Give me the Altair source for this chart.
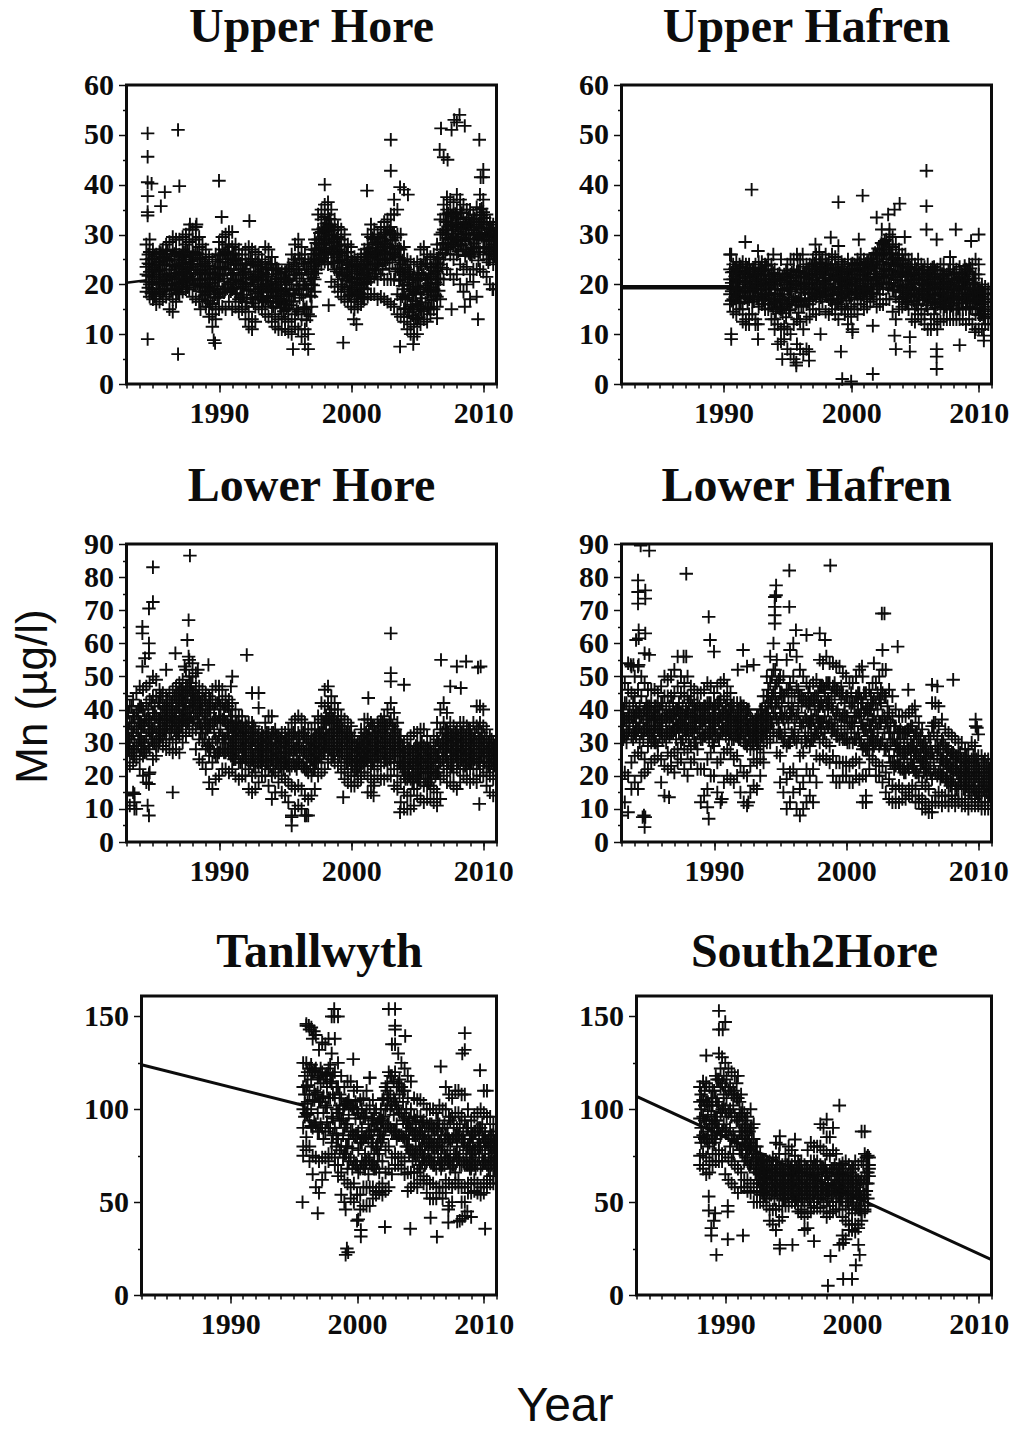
import altair as alt
import pandas as pd

QUARTERS = [1983.0,1983.25,1983.5,1983.75,1984.0,1984.25,1984.5,1984.75,1985.0,1985.25,1985.5,1985.75,
1986.0,1986.25,1986.5,1986.75,1987.0,1987.25,1987.5,1987.75,1988.0,1988.25,1988.5,1988.75,
1989.0,1989.25,1989.5,1989.75,1990.0,1990.25,1990.5,1990.75,1991.0,1991.25,1991.5,1991.75,
1992.0,1992.25,1992.5,1992.75,1993.0,1993.25,1993.5,1993.75,1994.0,1994.25,1994.5,1994.75,
1995.0,1995.25,1995.5,1995.75,1996.0,1996.25,1996.5,1996.75,1997.0,1997.25,1997.5,1997.75,
1998.0,1998.25,1998.5,1998.75,1999.0,1999.25,1999.5,1999.75,2000.0,2000.25,2000.5,2000.75,
2001.0,2001.25,2001.5,2001.75,2002.0,2002.25,2002.5,2002.75,2003.0,2003.25,2003.5,2003.75,
2004.0,2004.25,2004.5,2004.75,2005.0,2005.25,2005.5,2005.75,2006.0,2006.25,2006.5,2006.75,
2007.0,2007.25,2007.5,2007.75,2008.0,2008.25,2008.5,2008.75,2009.0,2009.25,2009.5,2009.75,
2010.0,2010.25,2010.5,2010.75]
MIDS = [1983.13,1983.38,1983.6,1983.88,1984.1,1984.38,1984.65,1984.88,1985.13,1985.4,1985.6,1985.88,
1986.1,1986.38,1986.63,1986.9,1987.13,1987.35,1987.63,1987.88,1988.1,1988.38,1988.63,1988.9,
1989.13,1989.35,1989.63,1989.88,1990.1,1990.38,1990.63,1990.9,1991.13,1991.35,1991.63,1991.88,
1992.1,1992.38,1992.63,1992.9,1993.13,1993.35,1993.63,1993.88,1994.1,1994.38,1994.63,1994.9,
1995.13,1995.35,1995.63,1995.88,1996.1,1996.38,1996.63,1996.9,1997.13,1997.35,1997.63,1997.88,
1998.1,1998.38,1998.63,1998.9,1999.13,1999.35,1999.63,1999.88,2000.1,2000.38,2000.63,2000.9,
2001.13,2001.35,2001.63,2001.88,2002.1,2002.38,2002.63,2002.9,2003.13,2003.35,2003.63,2003.88,
2004.1,2004.38,2004.63,2004.9,2005.13,2005.35,2005.63,2005.88,2006.1,2006.38,2006.63,2006.9,
2007.13,2007.35,2007.63,2007.88,2008.1,2008.38,2008.63,2008.9,2009.13,2009.35,2009.63,2009.88,
2010.1,2010.38,2010.63,2010.88]

# ---- Upper Hore
UH_START = 1984.5
UH_ROWS = [[28,25,23.5,22,20.5,18.5],[29,26.5,24,22.5,20,17.5],[27,25,23,21.5,19,17],[26,24,22.5,20,18,16],
[26.5,24.5,22,20.5,18.5,16.5],[27,25.5,23,21,19,17],[28,26,24,22,20,17.5],[28.5,25,23,21.5,18,15],
[29.5,27,24,20,17,14.5],[29,26.5,23.5,21,19,16.5],[29,26,24,22,20,18],[29.5,27,25,22.5,20.5,18.5],
[30,28,25.5,23,21,19],[31,28.5,26,23.5,21.5,19],[31,29,26.5,24,21,17.5],[31.5,29,26,23,20,17],
[29.5,27.5,25,22,19.5,16.5],[28,26,23.5,21,18.5,17],[27,24.5,22,20,18,15.5],[25.5,23,21,18.5,15.5,13.5],
[25,22,19.5,16,14,11.5],[26,23.5,21,18,15,13],[28.5,26,23.5,21,17.5,15],[29.5,27,24.5,22,19,15.5],
[30,28,25,23,19,15],[30.5,28,26,23,20,16.5],[30.5,27.5,25,22,19,15],[28,26,24,21,18,15.5],
[27,25,23,20.5,17,14.5],[26,24,22,19.5,16.5,15],[27,25,22.5,20,15.5,13],[27.5,25,22,19,14.5,11.5],
[27,24.5,21,17,13,11],[26.5,24,21.5,18.5,15.5,12.5],[26,24,22,20,17.5,15.5],[25,23,21,19,17,15],
[27.5,24.5,22,19.5,16.5,14],[27,24,21.5,19,16.5,13.5],[25.5,23,20.5,18.5,15.5,12.5],[24,22,20,17.5,14,11.5],
[23,21,19,16.5,13,11],[22.5,20.5,18.5,16,13.5,11],[22.5,21,19,16,13,11],[24,21,18,15,12.5,10.5],
[26,23,20,16.5,13,10],[28,25,22,18,14,11.5],[29,26,23,19,14.5,11],[27.5,25,22,18,13,9.5],
[26,23,20,15,11,8],[24.5,22,19,14,10,7],
[27,25,22.5,20,17.5,15.5],[29,27,25,23,21,18.5],[34,31,29,27,25,23],[35,33,30.5,28,26,24],
[36,33.5,31,29,26.5,24.5],[36.5,34,31.5,29,26,24],[35,32,30,27,24.5,20.5],[33,31,28.5,26,23,19.5],
[31.5,29.5,27,24.5,21,18.5],[31,29,26.5,23,20,17.5],[30,28,25,22,19,17],[28,26.5,24,21.5,18.5,16.5],
[27.5,25,23,20.5,18,15.5],[25.5,23.5,21,19,17,15],[25,23,21,18.5,16.5,15.5],[26,24,22,20,18,16],
[27,25,23,21,19,17],[30,28,25.5,23,20.5,17.5],[32,29.5,26.5,24,21,18],[31,29,26,24,21.5,18],
[30,28,26,24,21,17],[31.5,29.5,27,25,22,17.5],[32.5,30,27.5,25,21,17],[33,31,28,25,21,16.5],
[34,31.5,29,26,21,16],[37,34,30,26,21,15.5],[35,30,27,23,18,14],[30,27,24,21,17,13.5],
[27.5,25,22,19,15,12.5],[25,23,20,17,13.5,11],[24.5,22,19,15.5,12,10],[24,21,18,15,11.5,9.5],
[24.5,22,19.5,16,13,10],[27,24,21,18,15,12],[27.5,25,22,19,15,13],[26,24,21,18.5,15,12.5],
[25.5,23.5,21,18.5,15,14],[26,24,22,19,17,15],[28,25,22.5,20,17.5,15.5],[33,30,27,24,21,17],
[36,34,31,28,25,21],[37.5,35,32.5,30,27,23],[37,34.5,32,29,26,22],[36.5,34,31,28,25,21],
[38,35,32,29,26,22],[37,34.5,31.5,28,24,20],[36,33,30,27,23,18.5],[35,32.5,30,27,23.5,20],
[35,32,29,26,22,17],[34,31.5,29,26.5,23,20.5],[35.5,33,30,27.5,23,17.5],[38,35,32.5,30,26.5,23],
[37,34.5,32,29,26,22.5],[34,32,30,27.5,25,21.5],[32.5,31,29.5,27,25,20],[32,30,28,26,24,19]]
UH_CORE_START = 1984.65
UH_CORE = [[24.2,19.3,26,21.7],[20.4,25.1,22.6,18.2],[23.4,17.6,21,25.6],[19.1,22.7,24.4,20.2],[21.6,18.4,23.8,26.3],[25.2,20.7,18.9,22.9],[19.7,24.7,21.3,26.7],[22.2,18.7,25.6,20.1],
[23.7,19.2,21.8,26.1],[20.3,24.9,18.3,22.4],[25.7,21.2,23.2,19.6],[22.1,26.4,20.6,24.3],[19.4,23.3,26.6,21.4],[24.6,20.9,22.8,25.4],[21.1,25.9,19.8,23.6],[26.2,22.3,20.2,24.1],
[22.7,18.6,25.3,20.8],[24.1,19.9,22.2,17.8],[21.2,16.7,23.7,19.3],[18.8,22.4,20.3,16.2],[21.4,17.4,19.1,23.1],[24.6,19.6,22.1,17.3],[25.8,21.7,18.3,23.5],[20.6,26.3,23.2,18.4],
[26.6,21.2,24.4,19.2],[22.9,18.6,25.2,20.4],[24.7,19.4,22.3,26.1],[20.8,23.9,18.2,25.1],[21.9,19.1,24.2,17.4],[23.1,20.1,17.9,22.4],[18.7,24.1,21.3,16.4],[22.6,17.3,20.4,25.1],
[19.6,23.8,16.2,21.3],[24.4,20.7,18.1,22.5],[17.6,21.9,23.6,19.2],[22.3,18.4,20.8,16.7],[23.3,19.8,17.2,21.6],[20.1,24.1,16.4,18.6],[22.8,17.7,19.4,15.6],[16.3,21.1,18.8,23.2],
[19.9,15.3,22.1,17.1],[21.3,16.8,18.1,14.6],[17.6,20.4,15.2,22.6],[23.2,18.2,15.8,20.7],[16.6,21.8,18.8,24.4],[23.6,19.1,14.9,21.2],[25.2,17.3,22.3,19.7],[15.3,24.1,20.6,17.8],
[22.9,15.4,19.2,12.8],[21.1,13.6,17.7,24.3],
[23.6,19.8,26.1,21.4],[28.3,24.4,26.9,22.2],[26.2,30.3,28.1,24.7],[31.2,27.4,29.6,25.3],[28.3,32.2,26.1,30.6],[33.1,27.3,29.9,31.7],[26.6,30.8,28.4,24.2],[29.2,25.4,27.6,22.6],
[24.8,27.8,22.3,26.3],[21.7,25.8,23.3,19.6],[24.3,20.7,26.4,22.4],[19.4,23.8,21.2,17.8],[22.6,18.6,24.6,20.4],[19.8,22.2,17.6,24.1],[21.3,18.2,23.4,20.2],[23.8,19.2,21.8,17.3],
[24.6,20.3,22.4,26.2],[27.2,23.1,25.4,21.2],[25.6,29.3,22.7,27.4],[24.2,28.4,26.3,22.2],[26.7,23.6,29.2,25.1],[28.6,24.8,26.6,22.9],[30.4,26.2,28.2,24.3],[27.3,30.7,25.2,23.2],
[28.8,24.4,30.2,26.4],[25.6,29.4,27.7,22.6],[27.2,23.2,25.3,20.7],[19.7,24.8,22.4,17.6],[21.6,17.3,23.4,15.2],[14.4,20.4,17.8,22.6],[18.6,13.8,21.3,15.9],[16.6,20.8,13.2,18.3],
[22.3,15.6,19.3,13.4],[17.2,21.8,14.6,23.6],[24.2,19.8,16.4,21.3],[15.4,22.2,18.6,20.2],[19.4,23.4,16.8,21.6],[22.7,17.8,24.2,20.4],[25.4,21.2,18.7,23.4],[28.2,23.3,30.4,26.3],
[32.6,28.3,30.8,26.1],[34.2,29.3,31.6,27.4],[30.2,33.6,28.4,31.9],[27.6,32.4,29.6,34.1],[33.3,28.7,30.6,26.6],[31.1,34.3,27.8,29.4],[28.6,32.3,30.2,25.7],[26.3,31.7,29.2,33.4],
[30.9,27.3,25.6,32.6],[28.2,33.2,26.4,30.4],[31.6,27.4,29.3,24.8],[33.8,29.7,35.2,31.3],[30.3,27.2,33.3,28.8],[29.4,26.6,31.2,24.4],[28.7,31.4,26.2,30.6],[30.1,27.6,29,25.6]]
UH_OUT_X = [1984.6,1984.6,1984.6,1984.9,1984.6,1984.6,1984.6,1984.6,1985.9,1985.6,1986.9,1987,1986.9,1989.6,1989.7,1990,1990.2,1992.3,1995.6,1998,1998.3,1999.4,2000.2,2000.4,2001.2,2003,2003,2003.7,2004,2004.3,2003.7,2004.7,2006.8,2006.7,2007,2007.3,2007.6,2007.8,2008,2008.2,2008.6,2009.7,2010,2009.8,2010,2009.6,2007.6,2008.6,2006.5,2010.7,1988.3,1987.8,1988.6]
UH_OUT_Y = [50.3,45.6,40.5,40.2,37.7,34.5,33.8,9,38.5,35.7,51,39.7,6,8.8,8.2,40.8,33.5,32.7,7,40,15.8,8.3,13,12,38.8,49,42.8,39.5,39,38,7.5,8,51.3,47,45.5,45,51,53,52.5,54,51.8,49,43,41.5,41.5,13,15,15.5,13.2,19,32,32,15]
UH_LINE_X = [1983,1984.5]
UH_LINE_Y = [20.3,20.8]

# ---- Upper Hafren
UF_START = 1990.5
UF_ROWS = [[26,23,21,19.5,18,16],[24,22.5,21,19,17,14.5],
[24.5,22.5,20.5,19,16.5,14],[24,22,20.5,18.5,16.5,15],[24.5,22.5,20.5,18.5,15,12.5],[24,22,20,17.5,13,12],
[24,21.5,19.5,17,14,12],[23,21.5,20,18.5,16.5,14],[24,22,20.5,19,13,12],[24.5,22.5,21,19,17,15.5],
[24.5,23,21,19,17.5,16],[24,22,20,18,16,15],[25,23,21,19,17,15],[24,22,20,18,16,13],
[23,21,19,16.5,13,11],[22,20,18,15.5,12,8],[21,19,17,15,11,8.5],[22,20,18,15.5,11.5,9],
[24,21.5,19,16,11,7],[25,22,19,15,10,6],[25,23,20.5,17,12,5],[26,22.5,20,16.5,13,8],
[25,22.5,20,17,12.5,7],[23.5,21.5,19,15.5,11,6],[24,22,20,16,13,7],[24,22,20,18,16,13.5],
[25,23,21,19,17,15],[26,24,22,20,17.5,14],[26.5,24,22,20,18,15],[25,23.5,22.5,20.5,18.5,16.5],
[26,24,22,20,18,14.5],[25,23,21,19,17,14],[26,24,22,19,17,15],[25.5,24,21.5,19,16,14],
[25,23,21,18.5,16,13],[24.5,22.5,20.5,18,15.5,15],[24,22,20,18,15,14],[25,23,21,18.5,15,12],
[24,22,20,18,15.5,13.5],[24,22.5,21,19,17,15],[25,23,21,18,16,14],[26,24,22,19.5,17.5,16],
[25,23,21,19,17,15],[24.5,23,21,18.5,17,15.5],[25,23.5,21.5,19,17.5,16.5],[26,24,22,19.5,18,17],
[26,24,22,20,18,15.5],[27,24.5,22,20,18,16],[28,26,24,21.5,19,16],[29,27,25,23,20,17],
[30,28,26,23,20,17],[29.5,27.5,25,22,19,14.5],[28,26,24,21,17.5,13],[27,25,22.5,19.5,16.5,15],
[26,24,22,19.5,17,15.5],[26,24,22,20,18,16],[25,23.5,21.5,19.5,17.5,15],[25,23,21,19,16.5,13],
[24,22,20,18,15,12.5],[25,23,21,18,16,14],[24,22,20,18,15,13],[23.5,21.5,19,17,14,12],
[24,22,20,18,15,11],[23,21,19,16.5,13,11],[23.5,21.5,19,17,14,12],[23,21,19,16,13,11],
[24,22,20,18,15.5,12.5],[24,22,20,17.5,15,13],[22,20.5,19,17.5,15.5,13],[25.5,23,20,17,15,13],
[24,22,19,17,15,13],[23,21,19,17,15,13],[23.5,21.5,19.5,17.5,15,13],[22,20.5,19,17,15,13],
[23,21,19,17,15,12],[24,22.5,20,18,15.5,13],[24,22,20,17.5,15,12],[25,22,20,17,14,11],
[24,22,19,17,14,11],[20,19,17.5,16,14,11],[19.5,18,17,15.5,14,12],[19,18,16.5,15,13.5,12]]
UF_CORE_START = 1990.63
UF_CORE = [[22.4,18.6,20.3,16.7],[21.6,17.4,23.2,19.4],[20.7,22.8,17.7,19.1],[23.6,18.3,21.2,16.2],[19.2,22.2,17.2,20.6],[21.3,16.4,23.3,18.7],[20.2,17.6,22.6,19.3],[23.1,18.9,21.7,16.6],
[22.1,19.6,17.3,20.9],[23.4,20.2,18.2,21.8],[19.8,22.7,16.8,21.1],[20.4,23.7,17.8,19.2],[18.2,21.6,16.1,19.7],[20.6,17.1,22.3,15.2],[19.1,16.3,21.2,14.6],[17.6,20.8,15.1,22.2],
[18.8,21.6,14.2,16.8],[20.4,16.2,22.8,13.4],[17.4,21.3,19.3,14.8],[22.4,16.6,18.6,20.7],[15.8,21.8,19.8,17.4],[20.1,16.8,22.7,14.3],[18.3,21.4,15.7,19.6],[22.2,17.2,20.4,18.4],
[19.2,23.1,16.6,21.3],[21.7,18.1,23.6,20.3],[17.9,22.6,19.4,24.2],[20.8,23.3,18.3,21.4],[22.4,19.3,17.4,24.4],[20.6,23.2,18.7,21.3],[17.6,22.9,20.1,24.1],[19.4,21.8,16.8,23.4],
[20.8,17.8,22.8,19.1],[23.3,18.2,21.2,16.4],[19.6,22.4,17.1,20.7],[21.6,17.6,23.6,19.2],[20.3,16.7,22.3,18.6],[23.1,19.7,21.4,17.3],[18.9,22.7,20.6,24.2],[21.1,18.1,23.8,19.8],
[22.6,20.2,18.4,24.3],[19.3,23.3,21.7,17.9],[24.1,20.7,18.7,22.4],[21.3,24.6,19.2,22.9],[20.1,23.8,18.3,25.2],[23.2,20.8,26.3,22.1],[24.6,21.2,27.2,19.6],[25.8,22.6,28.3,20.4],
[26.4,23.1,28.7,21.3],[24.3,27.6,21.8,19.3],[22.7,26.2,20.3,24.4],[25.1,21.4,18.7,23.6],[23.7,19.7,21.6,25.3],[20.8,24.2,18.4,22.3],[22.6,19.2,24.8,17.2],[18.8,23.3,20.7,16.4],
[21.7,17.6,19.6,23.4],[19.2,22.4,16.7,20.3],[21.2,18.2,15.9,23.1],[17.4,20.8,19.1,22.2],[22.8,16.8,20.2,18.6],[19.7,15.8,21.6,17.8],[17.3,20.6,22.3,18.8],[21.4,16.3,19.3,23.4],
[20.4,17.7,15.3,22.7],[18.3,21.1,16.6,19.6],[16.2,20.2,18.2,22.1],[17.1,21.7,19.4,15.6],[18.4,16.4,20.4,22.6],[19.2,15.7,17.6,21.2],[20.7,16.9,18.7,22.4],[17.2,21.3,15.2,19.7],
[18.1,20.3,16.2,22.2],[21.6,17.3,19.3,23.7],[20.8,16.6,18.2,22.6],[17.7,23.2,19.1,15.4],[21.2,16.2,18.6,20.4],[18.3,16.7,15.3,19.2],[17.2,15.1,18.6,13.8],[16.4,14.6,18.2,13.2]]
UF_OUT_X = [1992.2,1991.7,1990.6,1992.7,1993.9,1994.5,1995.8,1996.2,1997.2,1998.4,1999,1999,2000.9,2000.6,2002,2002.9,2003.4,2003.8,2005.9,2005.9,2005.9,2006.7,2008.2,2009.4,2010,1990.6,1990.6,1992.7,1992.7,1999.2,1999.3,2000,2001.7,2001.7,2003.4,2004.6,2003.5,2004.6,2006.7,2006.7,2006.7,2008.5,2010.4,2010.4,2009.7,1994.6,1995.7,1995.7,1996.7,1996.7,2000.1,2000.1,1997.6,2002.4,2003,2004.2]
UF_OUT_Y = [39,28.5,26,26.7,26,25,25,26,28,29.4,27.7,36.5,37.8,29,33.4,34,35,36.2,42.8,35.7,31,29,31,28.7,30,10,9,9,12,6.5,1,0.5,2,11.7,9.7,9.4,7,6.5,7,3,5.5,7.8,8.7,9.7,10.4,5,3.7,4.3,4.7,6.5,11,10.4,10,31,31,29.5]
UF_LINE_X = [1982,1990.5]
UF_LINE_Y = [19.4,19.4]

# ---- Lower Hore
LH_START = 1983.0
LH_ROWS = [[44,36,30,26,22,14],[41,36,31,27,23,11],[43,38,33,28,24,15],[45,39,34,29,25,10],
[47,41,36,31,26,22],[46,40,35,30,26,20],[47,42,37,32,27,18],[48,43,37,33,28,21],
[50,44,39,34,30,25],[49,44,38,33,29,26],[46,42,37,34,31,30],[45,41,37,34,31,29],
[44,40,37,34,31,28],[45,41,38,35,31,28],[46,42,38,35,30,27],[47,43,39,35,31,28],
[48,44,40,36,32,27],[49,45,41,37,33,30],[52,47,43,39,35,32],[55,50,46,41,37,34],
[54,50,45,41,36,33],[51,47,43,39,34,28],[47,44,40,36,31,25],[46,43,39,34,30,24],
[45,41,37,33,28,22],[44,40,35,30,26,18],[46,42,36,30,24,16],[47,42,37,31,26,19],
[47,43,38,32,27,20],[46,42,37,32,28,22],[44,41,36,31,27,22],[43,40,35,31,27,21],
[42,38,34,30,26,22],[40,36,33,29,25,20],[38,35,32,28,24,19],[38,35,31,28,24,20],
[36,33,30,27,24,20],[36,33,30,26,22,16],[36,33,29,25,20,15],[34,31,28,25,21,16],
[33,30,28,26,23,18],[33,31,28,26,23,20],[36,32,29,26,23,20],[38,33,30,26,22,17],
[38,33,29,25,20,13],[34,31,28,25,21,15],[32,30,27,25,22,18],[33,30,27,24,20,15],
[33,30,27,24,19,14],[34,31,27,23,18,12],[36,32,28,23,17,8],[37,33,28,23,16,10],
[38,33,29,24,17,11],[37,33,28,23,16,10],[36,32,27,22,14,8],[34,30,26,21,13,8],
[34,31,28,25,20,14],[36,32,29,26,22,16],[38,34,30,27,24,20],[42,37,33,29,25,21],
[46,41,36,31,27,22],[47,42,37,32,28,24],[44,40,36,32,28,25],[42,38,34,30,27,24],
[40,37,33,29,26,23],[38,35,31,28,24,21],[37,33,30,26,22,19],[36,32,29,25,21,18],
[35,32,28,24,20,17],[32,29,26,23,20,17],[30,28,26,23,20,18],[34,30,27,24,21,19],
[37,33,29,26,23,21],[37,32,28,24,20,15],[36,31,27,23,19,15],[35,32,28,25,22,18],
[36,32,29,26,23,20],[37,33,30,26,23,19],[38,34,30,27,24,19],[40,35,31,27,24,20],
[42,37,32,28,24,20],[39,34,30,26,22,17],[36,32,28,24,20,16],[32,29,26,23,18,12],
[30,27,24,20,15,10],[31,27,23,19,14,10],[32,28,24,19,14,10],[33,28,24,20,16,11],
[33,29,25,22,18,14],[34,30,26,22,18,13],[34,29,25,21,17,12],[32,28,24,21,17,13],
[30,27,24,21,17,13],[32,28,25,21,16,12],[36,31,26,21,15,11],[40,34,29,24,19,13],
[42,36,31,27,23,20],[39,34,30,26,22,18],[36,32,29,26,22,18],[35,31,28,25,21,17],
[34,31,28,25,22,16],[36,32,29,26,22,18],[36,32,29,26,23,20],[35,31,28,25,22,19],
[34,30,27,25,22,18],[36,31,28,25,22,19],[41,35,30,26,22,18],[41,36,31,27,24,20],
[40,35,30,26,23,20],[34,30,27,24,21,17],[32,29,26,23,20,15],[30,28,25,22,19,14]]
LH_CORE_START = 1983.13
LH_CORE = [[34,28,39,31],[27,36,41,32],[30,38,26,35],[37,29,33,40],[32,41,36,28],[38,30,35,27],[34,40,29,37],[31,42,36,33],
[39,35,30,41],[33,37,42,29],[36,32,39,44],[41,34,38,33],[35,43,37,40],[38,33,42,36],[44,39,34,37],[41,36,45,33],
[43,38,35,46],[40,45,37,42],[44,39,47,36],[42,46,38,48],[45,41,37,43],[39,44,36,42],[42,35,40,33],[38,43,31,36],
[34,41,29,37],[39,28,35,43],[33,40,27,37],[36,30,42,26],[41,34,28,38],[37,31,40,27],[33,41,28,36],[38,30,35,26],
[35,28,32,25],[31,36,27,34],[29,33,24,35],[34,26,31,28],[32,25,29,35],[28,33,24,30],[26,31,35,23],[29,24,32,27],
[31,26,28,24],[27,30,25,32],[33,28,24,30],[26,31,23,29],[28,33,25,22],[30,24,27,32],[26,23,29,31],[24,30,27,22],
[29,25,31,23],[22,28,26,32],[30,24,27,33],[25,31,22,28],[27,32,24,29],[23,30,26,33],[28,24,31,22],[26,30,23,28],
[31,25,28,22],[27,32,24,30],[33,28,31,26],[36,30,27,33],[34,38,29,31],[36,32,28,39],[33,37,30,26],[31,36,28,34],
[35,29,33,26],[30,34,27,32],[28,33,24,31],[30,25,27,33],[26,31,23,29],[24,29,27,22],[28,25,30,23],[31,26,24,29],
[33,27,30,25],[29,34,26,31],[24,32,28,35],[30,26,33,28],[35,29,26,32],[27,33,30,36],[32,25,35,28],[29,36,31,25],
[33,27,35,30],[31,26,34,28],[28,32,24,30],[26,22,29,24],[21,27,24,19],[25,20,28,22],[23,18,27,21],[26,20,24,29],
[22,28,25,19],[27,21,24,30],[19,26,23,28],[25,21,28,18],[22,27,19,24],[26,20,29,23],[24,30,21,27],[28,33,25,30],
[31,26,34,28],[29,33,24,31],[27,32,30,23],[26,31,28,33],[24,29,32,27],[30,25,33,28],[28,32,26,23],[31,27,24,34],
[29,24,32,26],[33,28,25,31],[27,34,30,24],[31,26,33,28],[29,24,32,27],[26,30,23,28],[28,24,27,31],[25,29,23,27]]
LH_OUT_X = [1984.2,1984.2,1984.7,1984.7,1984.4,1984.2,1985,1985,1984.7,1986,1987.8,1987.7,1987.6,1986.7,1987.4,1987.7,1989.2,1988.4,1991,1990.9,1992.1,1992.5,1993,1993,1986.5,1983.6,1983.6,1983.6,1984.6,1984.7,1984.7,1984.7,1995.5,1995.5,1996.6,1999.4,2003,2003,2003,2004,2001.3,2006.8,2008,2008.7,2009.6,2009.8,2007.5,2008.3,2009.7,2003.7,2001.7,2001.7]
LH_OUT_Y = [65,63,60,57,55.5,53,83,72.5,70.5,52,86.5,67,61,57,53,56,53.5,52,50,47,56.5,45,45,40.5,15,14.5,12,10,11,8,17.5,20.5,5,7.5,8,13.5,63,51,48.5,47.5,43.5,55,53,54.5,52.7,53,47,46.5,11.5,9,14,17]
LH_LINE_X = []
LH_LINE_Y = []

# ---- Lower Hafren
LF_START = 1983.0
LF_ROWS = [[50,42,36,31,19,8],[48,42,37,32,21,12],[54,46,38,33,20,9],[53,45,38,32,24,16],
[50,44,38,33,26,18],[53,46,39,34,27,16],[50,44,38,33,27,20],[57,48,40,34,25,21],
[46,41,37,33,29,22],[46,42,38,34,30,24],[46,41,37,34,30,25],[45,41,38,34,29,26],
[47,42,37,33,25,18],[50,44,38,32,23,14],[49,44,38,33,27,22],[50,44,38,33,26,23],
[52,45,39,34,27,21],[56,47,40,35,28,24],[50,45,39,35,30,25],[48,44,38,34,28,22],
[50,44,39,34,27,20],[47,43,38,34,29,24],[46,42,38,34,30,25],[45,42,38,33,28,22],
[45,40,36,31,22,12],[46,41,37,32,22,14],[48,42,38,33,25,16],[47,42,37,33,27,20],
[45,41,38,34,29,20],[47,42,37,32,24,15],[48,43,38,33,25,12],[49,44,39,34,27,18],
[47,43,38,34,28,20],[45,41,37,33,27,19],[42,38,35,31,25,18],[42,38,35,32,26,20],
[42,38,35,31,23,15],[41,37,34,30,21,12],[40,37,34,29,20,11],[38,35,32,28,23,15],
[36,34,32,29,25,17],[38,35,32,28,24,16],[40,37,33,29,25,20],[44,38,34,31,27,24],
[50,44,39,35,31,30],[56,48,42,37,33,30],[60,52,45,39,34,32],[55,48,42,37,32,27],
[50,45,39,33,26,18],[50,44,37,30,22,15],[55,46,38,29,19,10],[58,48,39,30,21,12],
[60,50,40,32,22,15],[56,47,38,30,20,10],[52,44,36,26,16,8],[50,43,36,27,18,10],
[48,42,37,30,22,12],[47,42,36,29,20,14],[48,43,37,31,22,12],[49,44,38,33,26,18],
[55,47,41,36,30,25],[54,47,41,36,31,26],[56,48,42,36,30,25],[54,48,42,36,29,24],
[54,47,40,34,26,20],[53,46,39,32,24,18],[53,45,38,31,24,18],[51,45,38,31,24,20],
[50,44,38,31,24,20],[48,42,36,30,23,18],[48,42,36,30,24,18],[50,44,38,31,25,20],
[52,45,38,31,24,19],[50,42,35,28,20,12],[45,40,34,28,20,12],[46,40,35,30,26,22],
[48,42,37,32,28,25],[48,42,36,30,24,20],[50,43,36,29,23,20],[52,45,38,31,23,18],
[52,44,36,28,21,15],[46,39,33,26,19,13],[44,38,31,24,17,12],[40,35,29,23,16,12],
[38,33,28,23,17,12],[38,33,27,22,16,13],[38,33,27,21,15,13],[39,34,28,22,16,14],
[40,35,29,23,17,14],[38,33,27,21,16,12],[36,31,26,20,14,12],[34,29,24,18,13,10],
[30,26,22,17,12,10],[32,27,22,16,11,9],[42,35,27,19,12,9],[42,36,29,21,14,12],
[41,35,28,21,15,12],[37,31,25,20,14,11],[34,29,24,19,14,12],[33,28,23,18,14,11],
[32,27,22,18,14,12],[31,26,22,17,13,11],[30,26,21,17,13,12],[30,25,21,17,13,11],
[28,24,20,16,13,11],[28,24,20,16,12,10],[30,25,21,17,14,11],[29,25,21,17,13,11],
[26,23,19,15,12,11],[26,22,18,15,12,10],[25,21,17,14,11,10],[25,21,17,14,12,10]]
LF_CORE_START = 1983.13
LF_CORE = [[35,40,31,38],[33,37,42,30],[39,34,41,36],[31,38,35,42],[36,32,40,34],[41,35,30,38],[33,39,36,31],[37,42,34,40],
[32,38,35,41],[39,33,37,31],[35,41,30,38],[36,32,40,34],[38,31,35,42],[34,40,37,30],[41,36,32,39],[33,38,42,35],
[37,31,40,34],[42,36,33,39],[35,41,31,37],[32,38,40,34],[39,35,31,42],[36,41,33,38],[30,37,35,40],[38,33,41,36],
[34,40,31,37],[41,36,32,39],[35,31,38,42],[33,40,36,30],[38,34,41,32],[36,31,39,42],[40,35,33,37],[32,38,41,35],
[37,33,40,31],[39,35,31,41],[34,38,32,36],[36,31,40,33],[33,38,35,41],[39,32,36,30],[35,40,33,31],[32,37,34,30],
[35,31,37,33],[33,38,30,36],[37,34,40,32],[41,35,38,33],[46,38,42,35],[50,41,36,44],[47,39,52,43],[42,36,49,33],
[38,45,32,41],[44,34,39,31],[36,42,30,46],[41,33,45,38],[34,44,37,31],[39,46,32,42],[35,30,41,44],[43,33,38,31],
[36,41,32,45],[31,38,43,35],[40,34,44,32],[37,45,33,41],[42,36,47,34],[38,44,33,46],[48,40,35,43],[36,45,41,33],
[44,37,48,34],[40,35,46,32],[37,43,33,47],[42,35,39,31],[34,44,38,30],[41,33,45,36],[35,42,31,38],[39,45,33,42],
[36,43,30,40],[45,34,39,29],[32,41,37,28],[40,31,35,44],[38,29,43,33],[34,45,40,31],[42,36,30,46],[33,44,38,28],
[41,35,29,37],[36,30,33,24],[31,26,35,22],[28,33,24,30],[22,30,26,34],[33,25,29,21],[27,34,23,31],[24,30,35,27],
[32,22,28,25],[26,33,29,21],[23,28,32,25],[27,21,30,24],[20,26,23,28],[24,31,21,27],[33,25,36,22],[26,32,20,29],
[23,29,25,19],[27,20,24,30],[22,28,18,25],[26,21,23,17],[19,25,22,27],[24,16,21,26],[18,23,27,20],[25,19,22,16],
[21,26,17,23],[18,24,20,15],[22,16,26,19],[25,20,15,23],[17,22,19,14],[20,24,16,18],[15,21,18,23],[19,14,22,17]]
LF_OUT_X = [1984.45,1985.1,1984.25,1984.8,1984.25,1984.25,1984.8,1984.3,1984.8,1984.1,1984.3,1983.7,1983.9,1984.3,1985.1,1984.6,1984.8,1984.7,1984.75,1987.9,1987.9,1987.7,1989.6,1989.7,1990,1992.2,1991.8,1992.5,1993,1989.6,1989.5,1990.6,1992.6,1994.7,1994.6,1994.7,1994.6,1994.6,1994.6,1995.7,1995.7,1996.2,1997,1998,1998.4,1998.8,2002.7,2002.9,2002.75,2003.9,2002.1,2001.2,2004.7,2005.2,2006.5,2006.9,2008.1,2009.8,2009.8,2010,2009.9,2001.5,2001.5,1986.6]
LF_OUT_Y = [89.5,88,79,76,75.5,72,73.5,64,63,61,61.5,53.5,53.5,53.5,56.5,7.5,7.5,8,4.5,81,56,56,68,61,57.5,58,52,53,53.5,7,10.5,13,12,77.5,74,74.5,71,68.5,66,82,71,64,62.5,63,61,83.5,69,69,58,59,54,53,46,41,47.5,47,49,37,35,32.5,34.5,14,12,13.5]
LF_LINE_X = []
LF_LINE_Y = []

# ---- Tanllwyth
TA_START = 1995.75
TA_ROWS = [[125,112,100,90,80,75],
[145,125,112,98,85,78],[143,122,108,94,80,72],[138,120,105,90,75,65],[140,122,108,92,74,58],
[132,118,104,88,72,55],[136,120,106,90,74,62],[135,118,102,88,74,66],[138,122,106,90,76,72],
[150,130,114,96,82,76],[138,120,106,90,74,70],[125,112,98,84,70,64],[118,106,94,80,66,54],
[112,102,90,76,62,50],[115,104,92,80,68,60],[115,102,88,74,58,52],[110,100,86,72,60,50],
[112,100,86,70,54,40],[105,95,82,68,54,46],[106,96,84,70,58,48],[110,100,86,72,58,48],
[117,102,88,72,58,48],[105,94,82,70,58,52],[100,92,80,68,56,54],[95,86,76,66,58,55],
[105,94,84,72,60,54],[112,100,90,78,66,56],[120,106,92,80,68,58],[135,118,102,88,74,65],
[135,120,104,88,76,70],[130,114,100,86,74,70],[125,112,98,86,74,68],[122,110,96,84,72,65],
[118,106,92,80,66,56],[115,100,90,78,66,58],[106,96,86,76,66,60],[105,96,86,76,66,58],
[105,96,88,78,68,62],[103,94,84,74,64,60],[100,92,82,72,62,55],[100,92,82,72,60,52],
[100,90,80,70,60,52],[98,90,80,68,58,52],[102,92,82,70,58,55],[100,90,80,70,58,52],
[112,100,86,74,62,55],[108,96,84,72,60,48],[106,96,84,70,58,50],[110,98,86,76,66,60],
[110,98,86,74,62,58],[108,96,84,70,58,50],[108,94,82,70,58,50],[100,90,80,70,60,55],
[94,86,76,68,60,55],[96,88,78,70,62,56],[98,90,80,70,60,55],[100,90,80,68,58,54],
[110,98,84,72,60,55],[110,96,82,70,62,58],[96,88,80,72,64,60],[92,86,80,72,64,60]]
TA_CORE_START = 1995.88
TA_CORE = [[108,118,96,103],[120,104,113,97],[116,100,124,91],[110,121,93,105],[117,98,109,88],[122,104,92,114],[98,116,107,84],[112,93,119,101],
[106,124,90,115],[118,95,108,86],[100,87,112,80],[94,108,78,102],[86,100,74,95],[103,80,92,76],[97,84,105,72],[88,79,101,68],
[95,70,86,104],[78,98,66,88],[90,72,82,100],[68,85,96,76],[92,74,84,65],[80,95,70,88],[76,89,68,98],[86,72,93,78],
[90,100,82,94],[96,86,106,88],[110,92,102,114],[100,118,90,108],[115,97,106,88],[102,112,92,84],[108,86,98,116],[94,104,85,110],
[100,88,80,92],[84,95,76,90],[92,78,86,72],[88,74,94,80],[78,90,84,70],[86,72,80,93],[76,88,70,82],[90,74,84,78],
[80,92,72,86],[76,84,70,90],[88,74,80,94],[72,86,78,68],[84,92,76,70],[90,78,86,72],[74,94,82,68],[86,76,92,70],
[80,90,72,84],[76,86,70,92],[84,72,80,88],[78,70,90,74],[72,84,68,80],[86,76,70,82],[78,88,72,68],[84,74,80,90],
[76,86,70,92],[88,72,82,78],[74,84,68,80],[80,70,86,76],[72,82,78,68]]
TA_OUT_X = [1995.7,1996.9,1999.1,1999.1,1999.3,1999.2,2000.1,2000.3,2000.3,2002.2,2004.2,2005.8,2006.3,2010.1,2007.2,2007.2,2007.9,2008.1,2008.3,2008.5,2008.7,2009,1998.2,1998.2,1998.5,2002.5,2003,2003,2003,2003.8,2008.5,2008.5,2008.3,2006.6,2009.7,1999.7,1996,1996.2,1996.4,1996.6,2001]
TA_OUT_Y = [50,44,46,21.6,23,25,40.7,35,31.5,36.6,35.7,41.6,31.4,35.7,46,39,39.5,40,41,42.5,45,42,154,150,150,154,154,145,143,139.5,141,132,130,123,121,127,146,145,144,142,117]
TA_LINE_X = [1983,1995.8]
TA_LINE_Y = [124,102]

# ---- South2Hore
SH_START = 1988.0
SH_ROWS = [[112,104,95,85,75,70],[115,105,96,86,76,68],[114,104,94,84,74,65],[112,102,92,82,72,66],
[110,102,92,84,76,70],[118,106,94,84,76,72],[130,116,102,90,78,72],[128,114,100,88,76,72],
[125,112,100,88,76,65],[122,110,98,86,74,62],[120,108,96,84,72,60],[118,108,96,84,70,58],
[118,106,94,82,68,55],[108,98,88,78,66,58],[98,90,82,72,62,58],[96,88,80,72,62,56],
[100,90,80,70,60,55],[92,84,76,68,58,50],[80,74,68,62,56,50],[76,70,65,60,54,50],
[73,68,64,60,55,50],[72,67,63,58,52,48],[72,66,60,54,46,40],[74,68,62,56,46,38],
[82,72,64,56,46,35],[76,68,62,56,48,40],[70,66,60,54,48,42],[76,70,64,58,52,48],
[80,72,65,58,52,48],[78,70,64,58,52,50],[75,68,62,56,50,50],[72,66,60,54,48,45],
[72,66,60,54,46,44],[70,64,58,50,42,35],[78,68,60,52,44,36],[82,72,64,56,48,45],
[80,72,64,56,50,47],[80,72,65,58,52,47],[92,80,70,60,52,47],[90,78,68,58,50,45],
[85,76,66,56,48,42],[85,75,66,56,48,44],[90,78,68,58,50,45],[76,68,62,56,50,46],
[70,65,60,55,50,46],[71,65,58,50,42,32],[72,64,56,48,40,30],[70,62,54,46,38,35],
[68,60,52,44,38,35],[72,64,56,46,38,34],[70,62,54,46,38,36],[88,72,62,52,44,40],
[88,76,64,54,46,45],[75,70,66,60,52,48]]
SH_CORE_START = 1988.1
SH_CORE = [[100,90,108,82],[94,110,84,102],[88,104,97,80],[106,86,99,92],[96,82,110,90],[104,88,116,94],[112,98,122,86],[108,118,92,102],
[116,96,106,88],[100,112,90,80],[110,86,102,76],[94,106,82,114],[104,78,96,88],[92,84,76,100],[86,74,94,80],[78,88,70,82],
[84,72,90,76],[76,66,80,70],[70,62,74,66],[68,60,72,56],[64,58,70,54],[66,56,62,70],[60,68,54,64],[56,66,60,52],
[70,58,64,54],[62,54,68,58],[66,60,56,52],[58,70,62,54],[64,56,68,60],[60,54,66,58],[56,68,62,52],[64,58,54,70],
[60,52,66,56],[54,62,58,68],[66,56,60,52],[58,68,54,64],[62,56,70,60],[56,64,52,66],[68,58,62,54],[60,54,66,70],
[64,56,60,52],[58,68,54,62],[62,56,70,60],[66,58,54,64],[60,68,56,52],[56,62,66,58],[64,54,60,50],[58,52,66,62],
[60,50,56,68],[54,62,48,58],[56,46,60,52],[60,52,70,56],[66,56,74,60],[70,64,74,68]]
SH_OUT_X = [1989.5,1990,1989.5,1989.8,1988.5,1989.3,1990.2,1991.4,1988.7,1988.7,1989.2,1990.2,1990.2,1988.9,1988.9,1989.1,1999,1998,1998.3,1998.1,1999.3,2000,2000.3,2000.6,2000.5,1999.3,1999,1995.3,1994.3,1994.3,1997,1994.3,1995.5,1994.3]
SH_OUT_Y = [153,147,143,143,129,21.6,30,32,53,45.5,44,48,45,32,36,40,102,94.5,21,5,8.6,8.6,16,21.6,27,28,27,27,25,27,29,85.5,83.7,81]
SH_LINE_X = [1983,2011]
SH_LINE_Y = [107,19]

YEARS_MAJOR = [1990, 2000, 2010]
YEARS_MINOR_FROM_1983 = [1983,1984,1985,1986,1987,1988,1989,1990,1991,1992,1993,1994,1995,1996,1997,1998,1999,2000,2001,2002,2003,2004,2005,2006,2007,2008,2009,2010,2011]
YEARS_MINOR_FROM_1982 = [1982] + YEARS_MINOR_FROM_1983
Y60_MAJOR = [0,10,20,30,40,50,60]
Y60_MINOR = [5,15,25,35,45,55]
Y90_MAJOR = [0,10,20,30,40,50,60,70,80,90]
Y90_MINOR = [5,15,25,35,45,55,65,75,85]
Y160_MAJOR = [0,50,100,150]
Y160_MINOR = [25,75,125]

SERIF = "Liberation Serif"
INK = "#0c0c0c"


def points_frame(start, rows, core_start, core, out_x, out_y):
    xs, ys = [], []
    i0 = QUARTERS.index(start)
    for q, vals in zip(QUARTERS[i0:], rows):
        for v in vals:
            xs.append(q)
            ys.append(v)
    j0 = MIDS.index(core_start)
    for q, vals in zip(MIDS[j0:], core):
        for v in vals:
            xs.append(q)
            ys.append(v)
    xs += out_x
    ys += out_y
    return pd.DataFrame({"x": xs, "y": ys})


def panel(name, start, rows, core_start, core, out_x, out_y, line_x, line_y, xdom, ydom, ymaj, ymin, xmin,
          view_h, plot_h, left=0, line_w=3, title_dx=0, ytitle=None, xtitle=None):
    x_scale = alt.Scale(domain=xdom, range=[left, 370], nice=False, zero=False)
    y_scale = alt.Scale(domain=ydom, range=[plot_h, 0], nice=False, zero=False)
    axis_off_x = view_h - plot_h
    common = dict(grid=False, domain=False, tickColor=INK, tickWidth=1.5)
    x_kw = {"title": None}
    if xtitle:
        x_kw = dict(title=xtitle, titleFont="Liberation Sans", titleFontSize=48, titleFontWeight="normal",
                    titleColor=INK, titleX=438, titleY=125, titleAlign="center", titleBaseline="alphabetic")
    y_kw = {"title": None}
    if ytitle:
        y_kw = dict(title=ytitle, titleFont="Liberation Sans", titleFontSize=44, titleFontWeight="normal",
                    titleColor=INK, titleX=-80.5, titleY=152, titleAlign="center", titleBaseline="alphabetic", titleAngle=-90)
    x_major = alt.Axis(orient="bottom", values=YEARS_MAJOR, format="d", tickSize=8, offset=-axis_off_x,
                       labelFont=SERIF, labelFontWeight="bold", labelFontSize=30, labelColor=INK,
                       labelPadding=6, labelOverlap=False, labelFlush=False, **common, **x_kw)
    y_major = alt.Axis(orient="left", values=ymaj, tickSize=8, offset=-left,
                       labelFont=SERIF, labelFontWeight="bold", labelFontSize=30, labelColor=INK,
                       labelPadding=5, labelOverlap=False, labelBaseline="middle", **common, **y_kw)
    x_minor = alt.Axis(orient="bottom", values=xmin, tickSize=4, offset=-axis_off_x, labels=False, title=None, **common)
    y_minor = alt.Axis(orient="left", values=ymin, tickSize=4, offset=-left, labels=False, title=None, **common)

    pts = alt.Chart(points_frame(start, rows, core_start, core, out_x, out_y)).mark_point(
        shape="M-1,0L1,0M0,-1L0,1", size=180, filled=False, stroke=INK, strokeWidth=1.9, opacity=1, clip=True
    ).encode(x=alt.X("x:Q", scale=x_scale, axis=x_major), y=alt.Y("y:Q", scale=y_scale, axis=y_major))

    layers = [pts]
    if line_x:
        layers.append(alt.Chart(pd.DataFrame({"x": line_x, "y": line_y})).mark_line(
            color=INK, strokeWidth=line_w, clip=True
        ).encode(x=alt.X("x:Q", scale=x_scale, axis=None), y=alt.Y("y:Q", scale=y_scale, axis=None)))

    frame = alt.Chart(pd.DataFrame({"x0": [xdom[0]], "x1": [xdom[1]], "y0": [ydom[0]], "y1": [ydom[1]]})).mark_rect(
        fillOpacity=0, stroke=INK, strokeWidth=3
    ).encode(
        x=alt.X("x0:Q", scale=x_scale, axis=x_minor), x2="x1:Q",
        y=alt.Y("y0:Q", scale=y_scale, axis=y_minor), y2="y1:Q",
    )
    layers.append(frame)
    return alt.layer(*layers).resolve_axis(x="independent", y="independent").properties(
        width=370, height=view_h,
        title=alt.TitleParams(text=name, font=SERIF, fontSize=48, fontWeight="bold", color=INK,
                              anchor="middle", offset=18, dx=title_dx),
    )


p1 = panel("Upper Hore", UH_START, UH_ROWS, UH_CORE_START, UH_CORE, UH_OUT_X, UH_OUT_Y, UH_LINE_X, UH_LINE_Y, [1983, 2011], [0, 60],
           Y60_MAJOR, Y60_MINOR, YEARS_MINOR_FROM_1983, 305, 299, line_w=2.5)
p2 = panel("Upper Hafren", UF_START, UF_ROWS, UF_CORE_START, UF_CORE, UF_OUT_X, UF_OUT_Y, UF_LINE_X, UF_LINE_Y, [1982, 2011], [0, 60],
           Y60_MAJOR, Y60_MINOR, YEARS_MINOR_FROM_1982, 305, 299, line_w=4.5)
p3 = panel("Lower Hore", LH_START, LH_ROWS, LH_CORE_START, LH_CORE, LH_OUT_X, LH_OUT_Y, LH_LINE_X, LH_LINE_Y, [1983, 2011], [0, 90],
           Y90_MAJOR, Y90_MINOR, YEARS_MINOR_FROM_1983, 298, 298, ytitle="Mn (µg/l)")
p4 = panel("Lower Hafren", LF_START, LF_ROWS, LF_CORE_START, LF_CORE, LF_OUT_X, LF_OUT_Y, LF_LINE_X, LF_LINE_Y, [1983, 2011], [0, 90],
           Y90_MAJOR, Y90_MINOR, YEARS_MINOR_FROM_1983, 298, 298)
p5 = panel("Tanllwyth", TA_START, TA_ROWS, TA_CORE_START, TA_CORE, TA_OUT_X, TA_OUT_Y, TA_LINE_X, TA_LINE_Y, [1983, 2011], [0, 161],
           Y160_MAJOR, Y160_MINOR, YEARS_MINOR_FROM_1983, 299, 299, left=15, title_dx=8, xtitle="Year")
p6 = panel("South2Hore", SH_START, SH_ROWS, SH_CORE_START, SH_CORE, SH_OUT_X, SH_OUT_Y, SH_LINE_X, SH_LINE_Y, [1983, 2011], [0, 161],
           Y160_MAJOR, Y160_MINOR, YEARS_MINOR_FROM_1983, 299, 299, left=15, title_dx=8)

chart = alt.concat(p1, p2, p3, p4, p5, p6, columns=2, bounds="flush", align="each",
                   spacing={"row": 154, "column": 125}).properties(
    padding={"left": 2.5, "top": -4, "right": -1, "bottom": -5}
).configure_view(strokeWidth=0)

chart.save("out.html", embed_options={"renderer": "svg", "actions": False})
